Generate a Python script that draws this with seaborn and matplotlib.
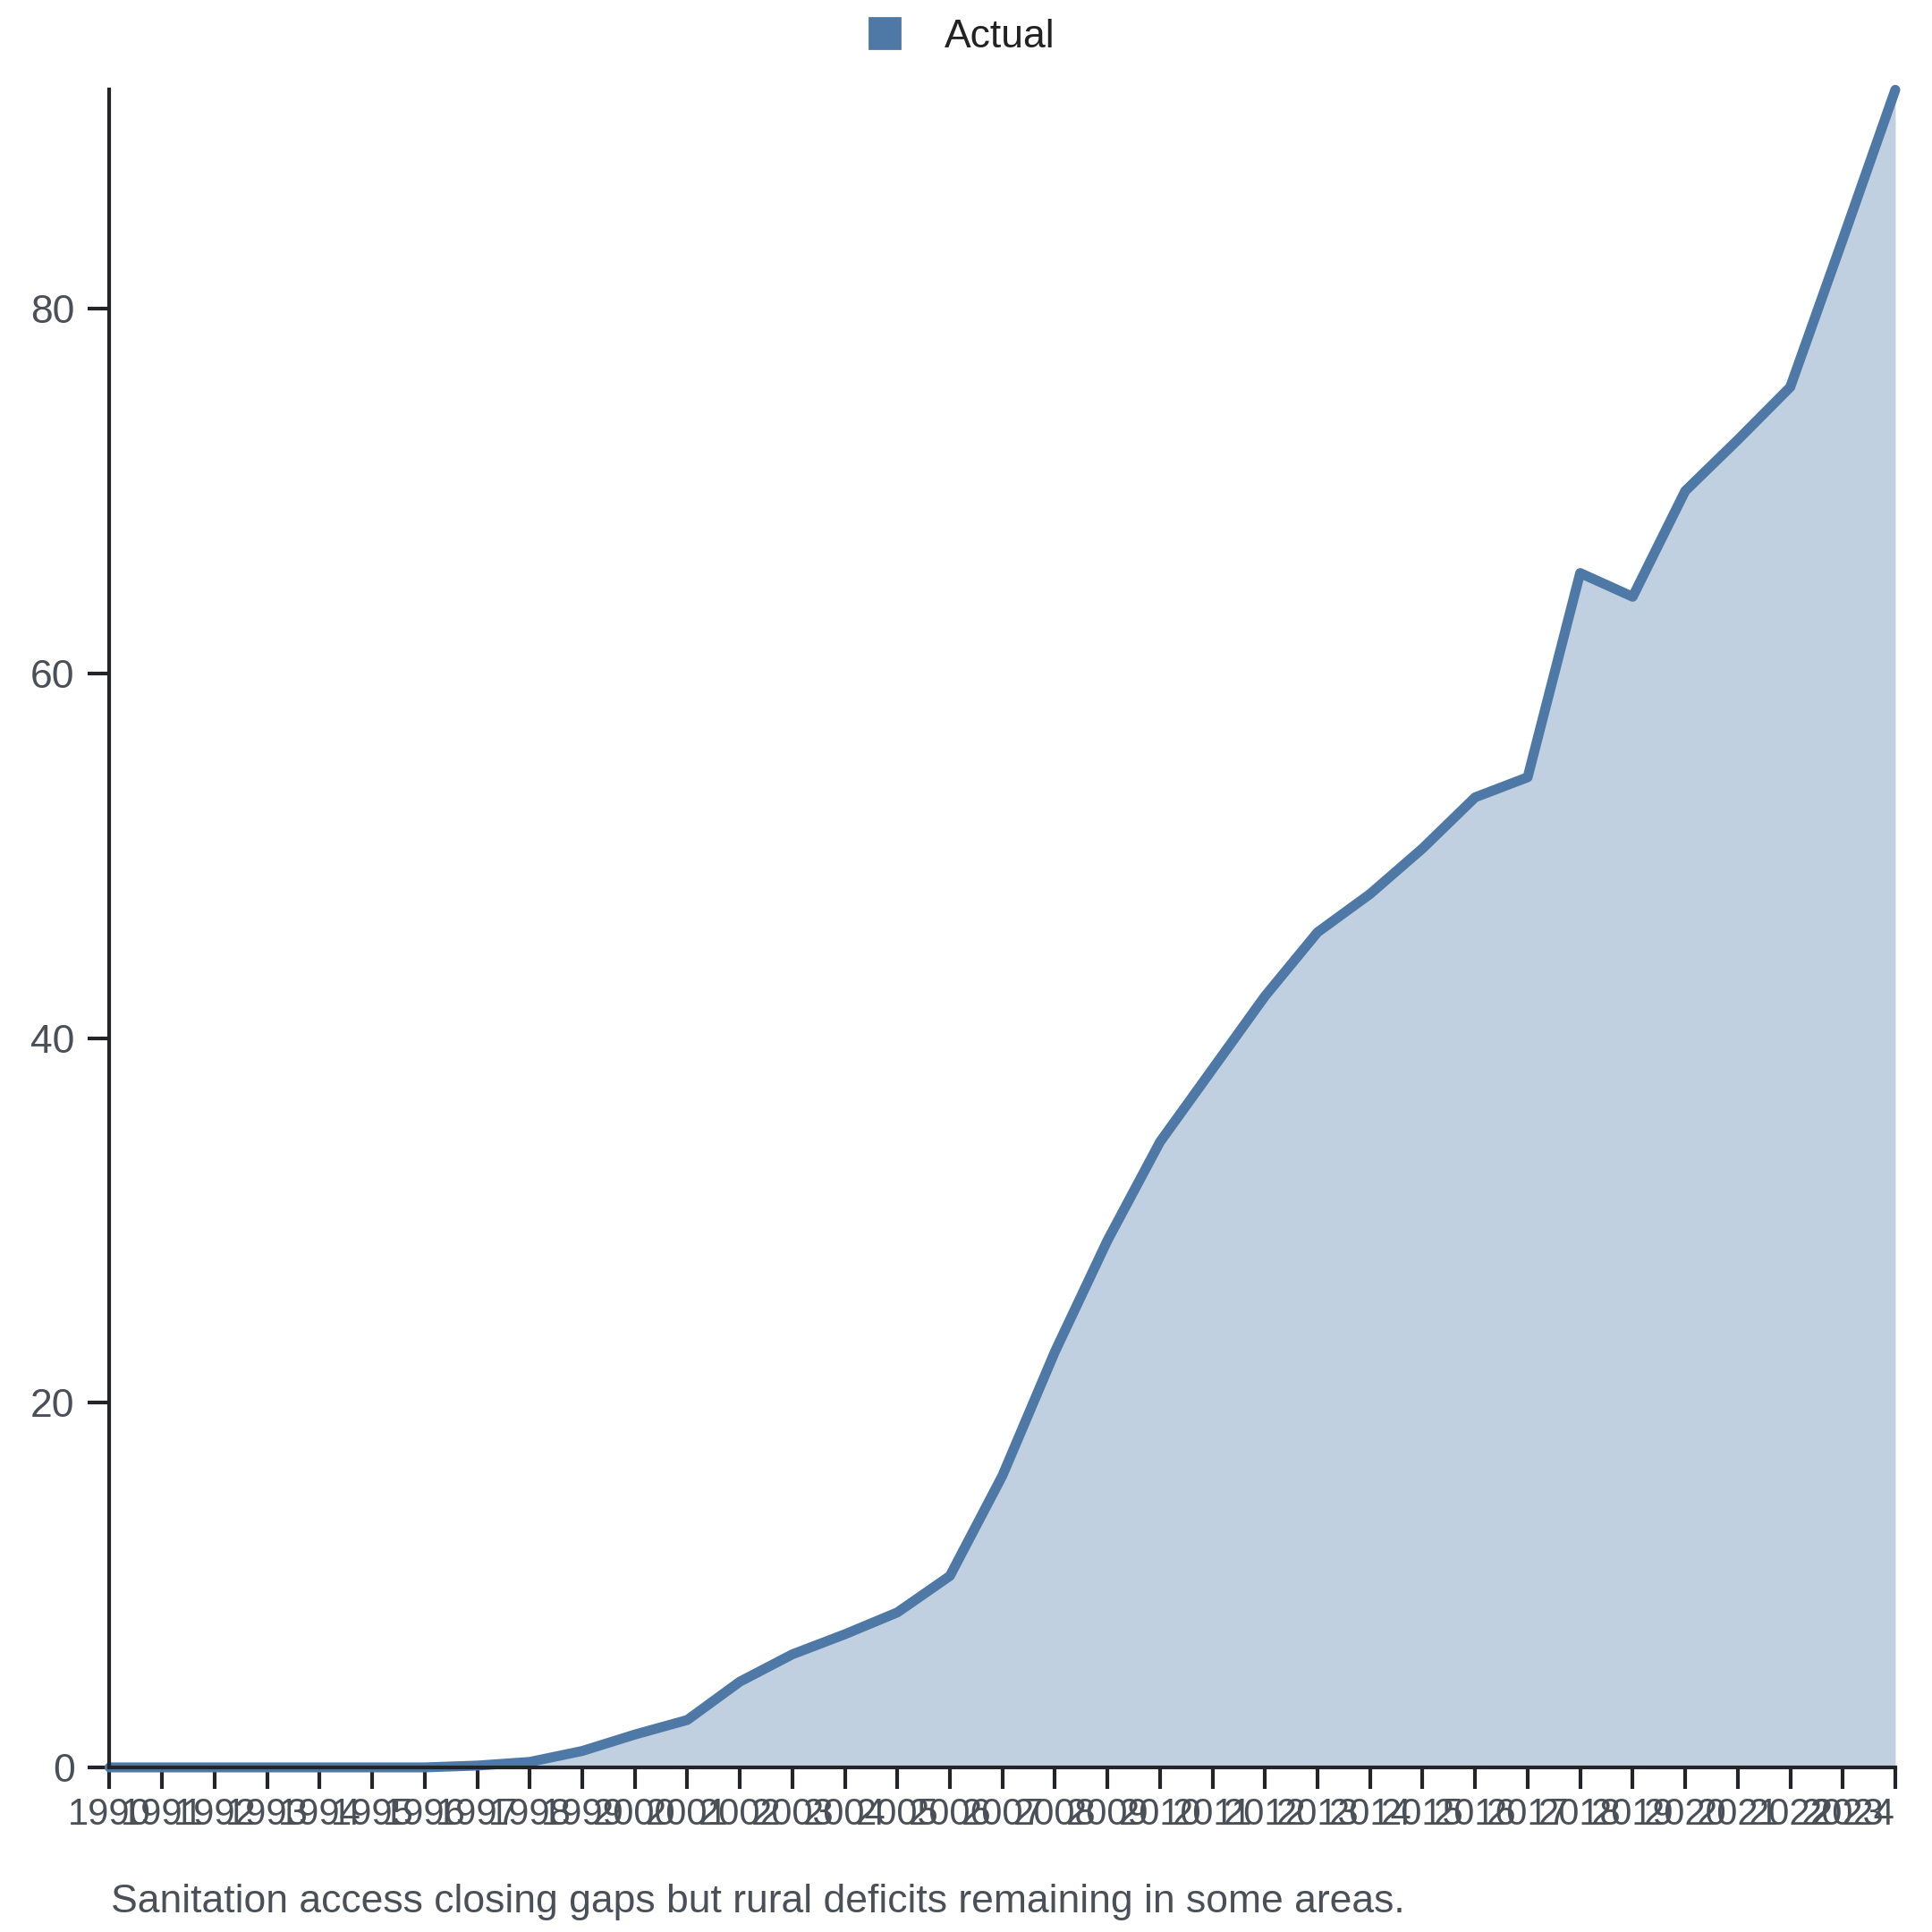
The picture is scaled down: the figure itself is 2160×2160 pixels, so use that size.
import matplotlib
matplotlib.use("Agg")
import matplotlib.pyplot as plt
import seaborn as sns
import pandas as pd
from matplotlib.lines import Line2D

years = list(range(1990, 2025))
values = [0.0, 0.0, 0.0, 0.0, 0.0, 0.0, 0.0, 0.1, 0.3, 0.9,
          1.8, 2.6, 4.7, 6.2, 7.3, 8.5, 10.5, 16.0, 22.8, 28.9,
          34.3, 38.3, 42.3, 45.8, 47.9, 50.4, 53.2, 54.3, 65.5, 64.2,
          70.0, 72.8, 75.7, 83.8, 92.0]
series_name = "Actual"
caption = "Sanitation access closing gaps but rural deficits remaining in some areas."
y_ticks = [0, 20, 40, 60, 80]

df = pd.DataFrame({"year": years, "value": values})

sns.set_theme(style="ticks")
plt.rcParams["font.family"] = ["Liberation Sans", "DejaVu Sans"]

color = "#4e79a7"
fig = plt.figure(figsize=(10.8, 10.8), dpi=200)
ax = fig.add_axes([0.0567, 0.0852, 0.9243, 0.8683])

ax.fill_between(df["year"], 0, df["value"], color=color, alpha=0.35, linewidth=0)
sns.lineplot(data=df, x="year", y="value", ax=ax, color=color, linewidth=4.0,
             legend=False, clip_on=False)

ax.set_xlim(1990, 2024)
ax.set_ylim(0, max(values))
ax.set_xticks(years)
ax.set_xticklabels([str(y) for y in years])
ax.set_yticks(y_ticks)
ax.set_xlabel("")
ax.set_ylabel("")

for s in ["top", "right"]:
    ax.spines[s].set_visible(False)
for s in ["left", "bottom"]:
    ax.spines[s].set_linewidth(1.5)
    ax.spines[s].set_color("#222428")

ax.tick_params(axis="both", length=8.5, width=1.5, color="#222428",
               labelcolor="#4a5058")
ax.tick_params(axis="x", labelsize=15, pad=3.5)
ax.tick_params(axis="y", labelsize=16, pad=5.5)

# keep the last year label inside the figure
ax.get_xticklabels()[-1].set_horizontalalignment("right")

handle = Line2D([0], [0], marker="s", linestyle="none", markersize=12,
                markerfacecolor=color, markeredgecolor=color)
fig.legend([handle], [series_name], loc="center", bbox_to_anchor=(0.497, 0.981),
           frameon=False, fontsize=16, handlelength=1.0, handletextpad=1.0,
           labelcolor="#222222", borderpad=0.1)

fig.text(0.0575, 0.0157, caption, fontsize=16, color="#4a5058", ha="left", va="center")

fig.savefig("out.png", dpi=200, facecolor="white")
